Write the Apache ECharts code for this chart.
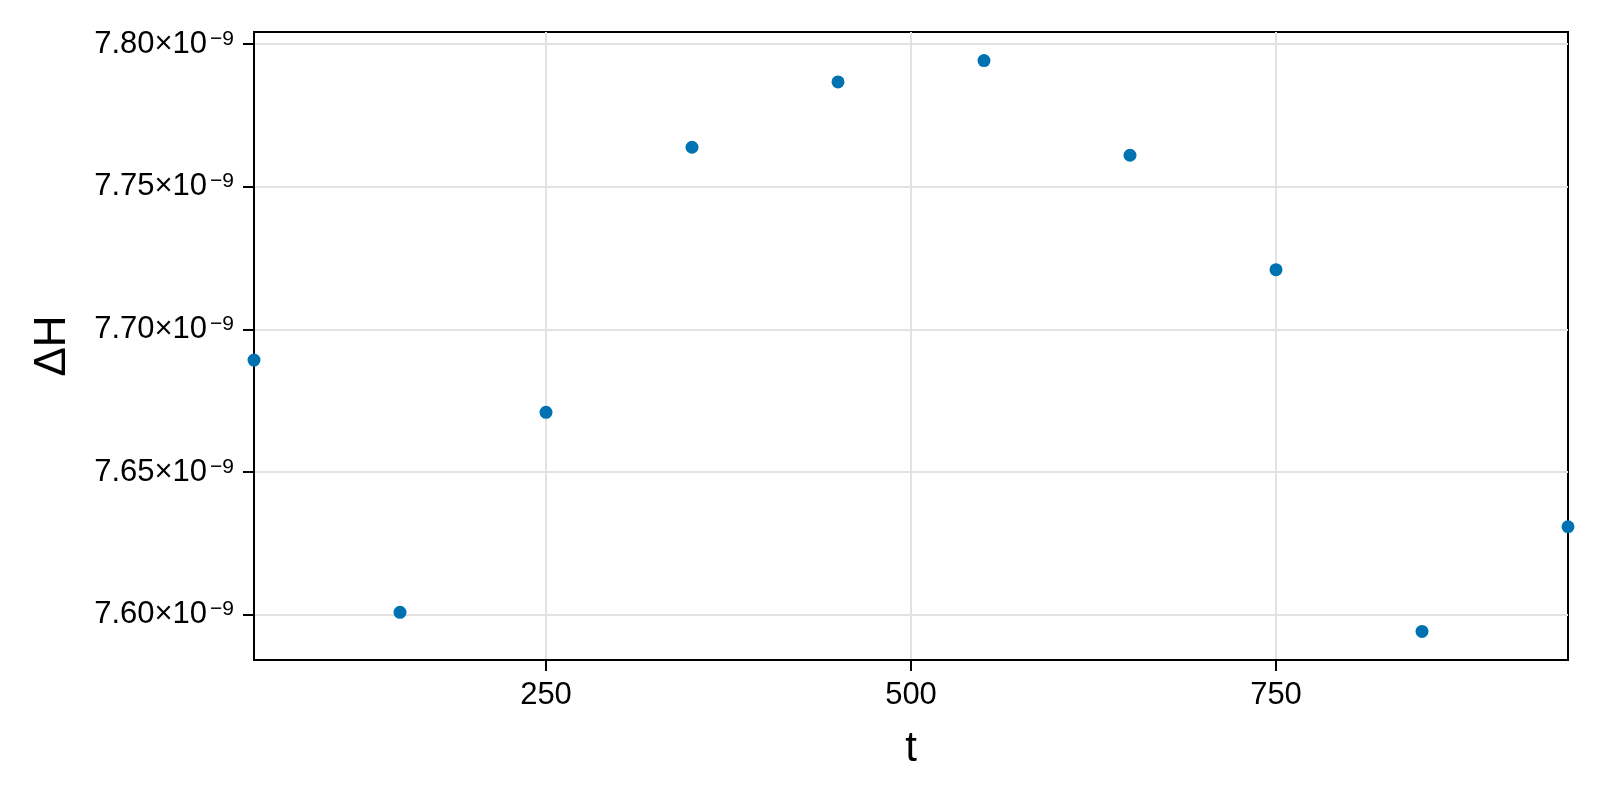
<!DOCTYPE html>
<html>
<head>
<meta charset="utf-8">
<script src="https://cdn.jsdelivr.net/npm/echarts@6/dist/echarts.min.js"></script>
<style>
  html, body { margin: 0; padding: 0; background: #fff; }
  #chart { width: 1600px; height: 800px; }
</style>
</head>
<body>
<div id="chart"></div>
<script>
// data
const tValues = [50, 150, 250, 350, 450, 550, 650, 750, 850, 950];
const deltaH = [
  7.6892e-9, 7.6008e-9, 7.6709e-9, 7.7638e-9, 7.7867e-9,
  7.7942e-9, 7.7610e-9, 7.7209e-9, 7.5941e-9, 7.6308e-9
];
const xTicks = [250, 500, 750];
const yTicks = [7.60e-9, 7.65e-9, 7.70e-9, 7.75e-9, 7.80e-9];

const FONT = "'Liberation Sans', Arial, sans-serif";

const chart = echarts.init(document.getElementById("chart"), null, { renderer: "canvas" });

const points = tValues.map((t, i) => [t, deltaH[i]]);

chart.setOption({
  backgroundColor: "#fff",
  animation: false,
  grid: { left: 254, right: 32, top: 32, bottom: 140,
          show: true, borderColor: "#000", borderWidth: 2 },
  xAxis: {
    type: "value",
    min: 50,
    max: 950,
    name: "t",
    nameLocation: "middle",
    nameGap: 68,
    nameTextStyle: { fontFamily: FONT, fontSize: 42, color: "#000" },
    axisLine: { show: true, onZero: false, lineStyle: { color: "#000", width: 2 } },
    axisTick: { show: true, length: 11, customValues: xTicks,
                lineStyle: { color: "#000", width: 2 } },
    axisLabel: { customValues: xTicks, margin: 20, fontFamily: FONT, fontSize: 31, color: "#000" },
    splitLine: { show: true, lineStyle: { color: "#e2e2e2", width: 2 } }
  },
  yAxis: {
    type: "value",
    min: 7.5841e-9,
    max: 7.8042e-9,
    name: "ΔH",
    nameLocation: "middle",
    nameGap: 179,
    nameTextStyle: { fontFamily: FONT, fontSize: 44, color: "#000" },
    axisLine: { show: true, lineStyle: { color: "#000", width: 2 } },
    axisTick: { show: true, length: 11, customValues: yTicks,
                lineStyle: { color: "#000", width: 2 } },
    axisLabel: {
      customValues: yTicks,
      margin: 20,
      formatter: v => "{m|" + (v * 1e9).toFixed(2) + "×10}{s|−9}",
      rich: {
        m: { fontFamily: FONT, fontSize: 31, lineHeight: 31, color: "#000" },
        s: { fontFamily: FONT, fontSize: 21, lineHeight: 21, color: "#000",
             verticalAlign: "top", padding: [0, 0, 0, 3] }
      }
    },
    splitLine: { show: true, lineStyle: { color: "#e2e2e2", width: 2 } }
  },
  series: [{
    type: "scatter",
    data: points,
    symbol: "circle",
    symbolSize: 13,
    itemStyle: { color: "#0072b2", opacity: 1 },
    clip: false
  }]
});
</script>
</body>
</html>
